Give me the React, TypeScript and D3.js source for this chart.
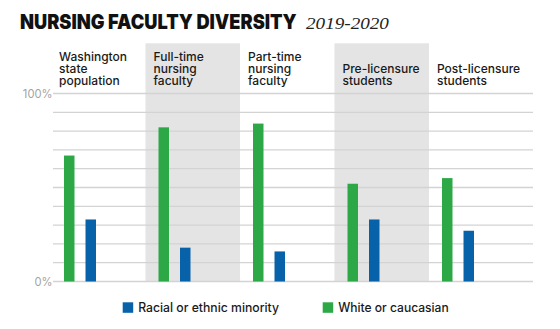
import React, { useLayoutEffect, useRef, useState } from "react";
import * as d3 from "d3";

const categories = ["wa", "ft", "pt", "pre", "post"];
const categoryLabels = [
  ["Washington", "state", "population"],
  ["Full-time", "nursing", "faculty"],
  ["Part-time", "nursing", "faculty"],
  ["Pre-licensure", "students"],
  ["Post-licensure", "students"],
];
const shaded = [false, true, false, true, false];
const whiteValues = [67, 82, 84, 52, 55];
const minorityValues = [33, 18, 16, 33, 27];
const seriesKeys = ["white", "minority"];
const seriesNames = ["White or caucasian", "Racial or ethnic minority"];
const seriesColors = ["#2ca847", "#0862a9"];
const yTicks = [0, 10, 20, 30, 40, 50, 60, 70, 80, 90, 100];
const yTickLabels = ["0%", "", "", "", "", "", "", "", "", "", "100%"];

const W = 560;
const H = 329;

function FitText(props: {
  x: number;
  y: number;
  width: number;
  children: string;
  [k: string]: any;
}) {
  const { x, y, width, children, ...rest } = props;
  const ref = useRef<SVGTextElement>(null);
  const [s, setS] = useState(1);
  useLayoutEffect(() => {
    if (ref.current) {
      const w = ref.current.getComputedTextLength();
      if (w > 0) setS(width / w);
    }
  }, [width, children]);
  return (
    <text ref={ref} x={0} y={0} transform={`translate(${x},${y}) scale(${s},1)`} {...rest}>
      {children}
    </text>
  );
}

export default function App() {
  const x = d3.scaleBand<string>().domain(categories).range([51, 523.5]).padding(0);
  const inner = d3
    .scaleBand<string>()
    .domain(seriesKeys)
    .range([13, 45])
    .paddingInner(0.512)
    .paddingOuter(0);
  const y = d3.scaleLinear().domain([0, 100]).range([281.5, 93.5]);
  const values: Record<string, number[]> = { white: whiteValues, minority: minorityValues };
  const font = "Inter, 'Noto Sans', sans-serif";

  return (
    <svg
      width={W}
      height={H}
      style={{ position: "absolute", left: 0, top: 0, background: "#fff" }}
      fontFamily={font}
    >
      {categories.map((c, i) =>
        shaded[i] ? (
          <rect key={c} x={x(c)} y={43.3} width={x.bandwidth()} height={y(0) - 43.3} fill="#e4e4e4" />
        ) : null
      )}
      {yTicks.map((t) => (
        <line key={t} x1={53} x2={533} y1={y(t)} y2={y(t)} stroke="#d3d3d3" strokeWidth={1.3} />
      ))}
      {yTicks.map((t, i) =>
        yTickLabels[i] ? (
          <text
            key={"l" + t}
            x={52.5}
            y={y(t)}
            dy="0.36em"
            textAnchor="end"
            fontSize={11.2}
            fill="#a3a3a3"
          >
            {yTickLabels[i]}
          </text>
        ) : null
      )}
      {categories.map((c, i) =>
        seriesKeys.map((k, si) => (
          <rect
            key={c + k}
            x={(x(c) as number) + (inner(k) as number)}
            y={y(values[k][i])}
            width={inner.bandwidth()}
            height={y(0) - y(values[k][i])}
            fill={seriesColors[si]}
          />
        ))
      )}
      {categories.map((c, i) => {
        const lines = categoryLabels[i];
        const last = 84.5;
        return (
          <g key={"c" + c}>
            {lines.map((ln, j) => (
              <text
                key={j}
                x={(x(c) as number) + 8}
                y={last - (lines.length - 1 - j) * 11.7}
                fontSize={12}
                fontWeight={500}
                fill="#1a1a1a"
              >
                {ln}
              </text>
            ))}
          </g>
        );
      })}
      <FitText x={20} y={29.3} width={277} fontSize={20.5} fontWeight={900} fill="#111">
        NURSING FACULTY DIVERSITY
      </FitText>
      <FitText
        x={306}
        y={29.3}
        width={83}
        fontSize={17}
        fontStyle="italic"
        fontFamily="'Liberation Serif', 'DejaVu Serif', serif"
        fill="#222"
      >
        2019-2020
      </FitText>
      {[
        { k: 1, x0: 122.7, w: 141 },
        { k: 0, x0: 322.7, w: 110.7 },
      ].map(({ k, x0, w }) => (
        <g key={"lg" + k}>
          <rect x={x0} y={302.3} width={10.5} height={10.5} fill={seriesColors[k]} />
          <FitText x={x0 + 15.5} y={311.5} width={w} fontSize={12.5} fontWeight={500} fill="#1a1a1a">
            {seriesNames[k]}
          </FitText>
        </g>
      ))}
    </svg>
  );
}
